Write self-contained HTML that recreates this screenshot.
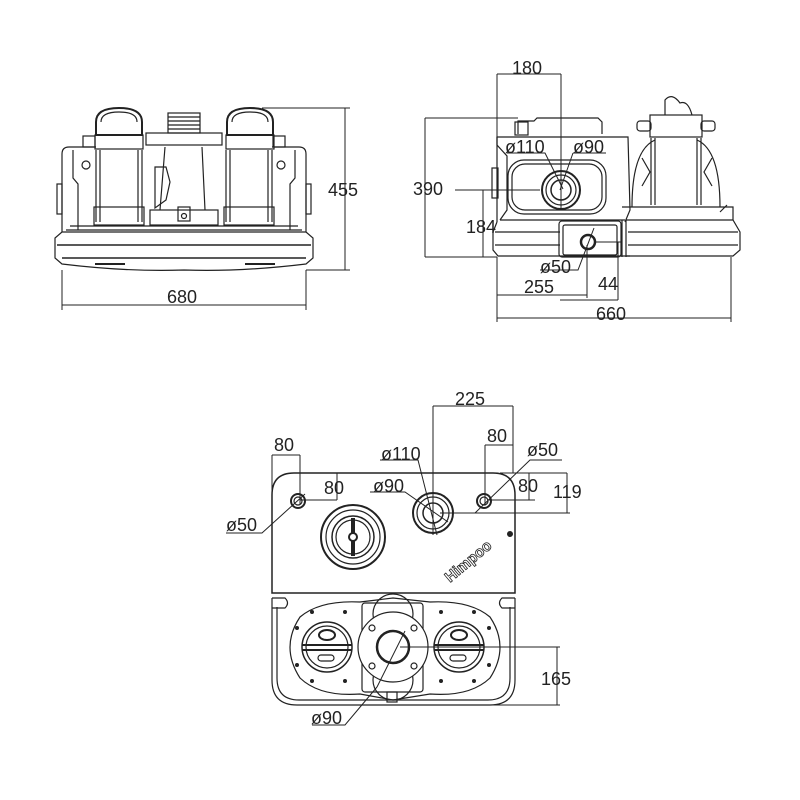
<!DOCTYPE html>
<html><head><meta charset="utf-8"><style>
html,body{margin:0;padding:0;background:#fff}
svg{display:block}
text{font-family:"Liberation Sans",sans-serif;font-size:18px;fill:#222;stroke:none;font-weight:normal}
</style></head><body>
<svg width="800" height="800" viewBox="0 0 800 800" xmlns="http://www.w3.org/2000/svg" fill="none" stroke="#222" stroke-width="1">
<!-- ===== FRONT VIEW ===== -->
<g stroke-width="1.2">
<path d="M62 232 L62 154 Q62 147 69 147 L96 147 M272 147 L299 147 Q306 147 306 154 L306 232"/>
<path d="M73 150 L73 178 L78 184 L78 230 M295 150 L295 178 L290 184 L290 230"/>
<rect x="57" y="184" width="5" height="30"/><rect x="306" y="184" width="5" height="30"/>
<circle cx="86" cy="165" r="4"/><circle cx="281" cy="165" r="4"/>
<path d="M96 135 L96 122 Q96 108 119 108 Q142 108 142 122 L142 135 Z" stroke-width="2"/>
<path d="M101 122 Q101 112 119 112 Q137 112 137 122"/>
<path d="M227 135 L227 122 Q227 108 250 108 Q273 108 273 122 L273 135 Z" stroke-width="2"/>
<path d="M232 122 Q232 112 250 112 Q268 112 268 122"/>
<rect x="83" y="136" width="12" height="11"/><rect x="273" y="136" width="12" height="11"/>
<rect x="95" y="135" width="48" height="14"/><rect x="226" y="135" width="48" height="14"/>
<path d="M96 150 V222 M100 150 V222 M138 150 V222 M142 150 V222"/>
<path d="M226 150 V222 M230 150 V222 M268 150 V222 M272 150 V222"/>
<rect x="94" y="207" width="50" height="18"/><rect x="224" y="207" width="50" height="18"/>
<rect x="168" y="113" width="32" height="20"/>
<path d="M168 117 H200 M168 121 H200 M168 125 H200 M168 129 H200"/>
<rect x="146" y="133" width="76" height="12"/>
<path d="M165 147 L160 210 M202 147 L205 210"/>
<path d="M155 167 L166 167 L170 182 L166 200 L155 208 Z"/>
<rect x="150" y="210" width="68" height="15"/><rect x="178" y="207" width="12" height="14"/><circle cx="184" cy="216" r="2.5"/>
<path d="M70 226 H298 M66 230 H302"/>
<path d="M62 232 H306 L313 238 V258 L306 264 Q240 272 184 270 Q128 272 62 264 L55 258 V238 Z"/>
<path d="M57 245 H311 M62 258 H306" stroke-width="1.5"/>
<path d="M95 264 H125 M245 264 H275" stroke-width="2"/>
</g>
<path d="M262 108 H350 M345 108 V270 M306 270 H350 M62 270 V310 M306 270 V310 M62 305 H306"/>
<text x="328" y="196">455</text>
<text x="167" y="303">680</text>

<!-- ===== SIDE VIEW ===== -->
<g stroke-width="1.2">
<path d="M497 222 L497 137 L628 137 L630 210 L625 222"/>
<path d="M497 137 L497 145 L507 156 V210 L500 220"/>
<rect x="492" y="168" width="6" height="30"/>
<path d="M518 134 V121 H534 L537 118 H598 L602 122 V134"/>
<rect x="515" y="122" width="13" height="13"/>
<rect x="508" y="160" width="98" height="54" rx="16"/>
<rect x="512" y="164" width="90" height="46" rx="13"/>
<circle cx="561" cy="190" r="19" stroke-width="2"/><circle cx="561" cy="190" r="15"/><circle cx="561" cy="190" r="10" stroke-width="1.5"/>
<path d="M500 220 H625 M497 222 L493 232 V250 L498 256 H630"/>
<path d="M495 232 H560 M495 245 H560"/>
<rect x="559" y="221" width="62" height="36" rx="3"/>
<rect x="563" y="225" width="54" height="30" rx="2"/>
<circle cx="588" cy="242" r="7" stroke-width="2.5"/>
<path d="M622 207 H733 V220 M720 212 L727 205"/>
<path d="M632 207 Q632 150 655 140 M720 207 Q720 150 697 140"/>
<path d="M642 186 L650 172 L642 158 M712 186 L704 172 L712 158"/>
<path d="M651 138 V205 M655 138 V205 M697 138 V205 M701 138 V205"/>
<rect x="650" y="115" width="52" height="22"/>
<rect x="637" y="121" width="14" height="10" rx="3"/><rect x="701" y="121" width="14" height="10" rx="3"/>
<path d="M665 115 V100 Q672 92 680 103 Q688 100 692 115"/>
<path d="M622 220 V257 M626 220 V257 M626 220 H733 L740 232 V250 L733 256 H626"/>
<path d="M628 232 H738 M628 245 H738"/>
</g>
<path d="M497 74 V137 M561 74 V210 M497 74 H561"/>
<path d="M425 118 H518 M425 118 V257 M425 257 H497 M483 190 V257 M455 190 H540"/>
<path d="M497 257 V322 M731 257 V322 M497 318 H731"/>
<path d="M587 245 V298 M497 295 H587 M618 242 V300 M595 242 H622 M560 300 H618"/>
<path d="M540 270 H578 L594 228"/>
<path d="M507 153 H545 L563 189 M573 153 H606 M573 153 L560 190"/>
<text x="512" y="74">180</text>
<text x="413" y="195">390</text>
<text x="466" y="233">184</text>
<text x="540" y="273">ø50</text>
<text x="524" y="293">255</text>
<text x="598" y="290">44</text>
<text x="596" y="320">660</text>
<text x="505" y="153">ø110</text>
<text x="573" y="153">ø90</text>

<!-- ===== BOTTOM VIEW ===== -->
<g stroke-width="1.2">
<path d="M272 593 V495 Q272 473 294 473 H493 Q515 473 515 495 V593 Z" stroke-width="1.5"/>
<path d="M272 598 V680 Q272 705 297 705 H490 Q515 705 515 680 V598"/>
<path d="M277 607 V678 Q277 700 299 700 H488 Q510 700 510 678 V607"/>
<path d="M272 598 H285 Q290 603 285 608 H272 M515 598 H502 Q497 603 502 608 H515"/>
<circle cx="298" cy="501" r="7" stroke-width="2"/><circle cx="298" cy="501" r="4"/>
<circle cx="484" cy="501" r="7" stroke-width="2"/><circle cx="484" cy="501" r="4"/>
<circle cx="353" cy="537" r="32" stroke-width="2"/><circle cx="353" cy="537" r="27"/>
<circle cx="353" cy="537" r="21" stroke-width="1.5"/><circle cx="353" cy="537" r="17"/>
<path d="M353 518 V556" stroke-width="4"/><circle cx="353" cy="537" r="4" fill="#fff" stroke-width="2"/>
<circle cx="433" cy="513" r="20" stroke-width="2"/><circle cx="433" cy="513" r="16"/><circle cx="433" cy="513" r="10" stroke-width="1.5"/>
<path d="M300 617 Q320 600 360 602 L393 598 L430 602 Q470 600 490 617 Q510 647 490 678 Q470 697 430 694 L393 700 L360 694 Q320 697 300 678 Q280 647 300 617 Z"/>
<rect x="362" y="603" width="61" height="89" rx="3"/>
<circle cx="393" cy="614" r="20"/><circle cx="393" cy="680" r="20"/>
<circle cx="393" cy="647" r="35" fill="#fff"/><circle cx="393" cy="647" r="16" stroke-width="2.5"/>
<circle cx="327" cy="647" r="25" stroke-width="1.5"/><circle cx="327" cy="647" r="21"/>
<circle cx="459" cy="647" r="25" stroke-width="1.5"/><circle cx="459" cy="647" r="21"/>
<ellipse cx="327" cy="635" rx="8" ry="5" stroke-width="2"/><ellipse cx="459" cy="635" rx="8" ry="5" stroke-width="2"/>
<path d="M302 645 H352 M302 650 H352 M434 645 H484 M434 650 H484" stroke-width="2"/>
<rect x="318" y="655" width="16" height="6" rx="3"/><rect x="450" y="655" width="16" height="6" rx="3"/>
<rect x="387" y="692" width="10" height="10"/>
<g fill="#222" stroke="none">
<circle cx="297" cy="628" r="2"/><circle cx="297" cy="665" r="2"/><circle cx="312" cy="612" r="2"/><circle cx="312" cy="681" r="2"/><circle cx="345" cy="612" r="2"/><circle cx="345" cy="681" r="2"/>
<circle cx="489" cy="628" r="2"/><circle cx="489" cy="665" r="2"/><circle cx="474" cy="612" r="2"/><circle cx="474" cy="681" r="2"/><circle cx="441" cy="612" r="2"/><circle cx="441" cy="681" r="2"/>
<circle cx="510" cy="534" r="3"/>
</g>
<circle cx="372" cy="628" r="3"/><circle cx="414" cy="628" r="3"/><circle cx="372" cy="666" r="3"/><circle cx="414" cy="666" r="3"/>
</g>
<text x="0" y="0" transform="translate(450 583) rotate(-40)" style="font-size:15px;font-weight:bold;fill:#fff;stroke:#222;stroke-width:0.8">Himpoo</text>
<path d="M272 455 V593 M300 455 V505 M272 455 H300"/>
<path d="M337 473 V500 M300 500 H337 M305 473 H337"/>
<path d="M433 406 V535 M513 406 V473 M433 406 H513"/>
<path d="M485 445 V505 M485 445 H513"/>
<path d="M489 500 H535 M529 473 V500 M500 473 H567 M567 473 V513 M440 513 H570"/>
<path d="M475 513 L530 460 H562"/>
<path d="M226 533 H262 L305 494"/>
<path d="M380 460 H418 L437 535 M370 492 H405 L448 522"/>
<path d="M400 647 H560 M557 647 V705 M395 705 H560"/>
<path d="M312 725 H345 L377 687 M377 687 L405 631"/>
<text x="274" y="451">80</text>
<text x="324" y="494">80</text>
<text x="455" y="405">225</text>
<text x="487" y="442">80</text>
<text x="527" y="456">ø50</text>
<text x="518" y="492">80</text>
<text x="553" y="498">119</text>
<text x="381" y="460">ø110</text>
<text x="373" y="492">ø90</text>
<text x="226" y="531">ø50</text>
<text x="541" y="685">165</text>
<text x="311" y="724">ø90</text>
</svg>
</body></html>
